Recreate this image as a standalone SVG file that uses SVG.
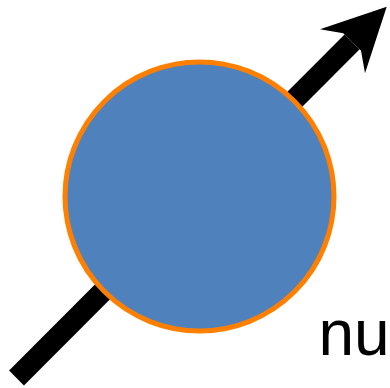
<svg xmlns="http://www.w3.org/2000/svg" width="390" height="388" viewBox="0 0 390 388">
  <style>
    .arrow { stroke: #000000; stroke-width: 21; fill: none; }
    .head { fill: #000000; }
    .ball { fill: #4F81BD; stroke: #FF8000; stroke-width: 5; }
    .label { font-family: "Liberation Sans", Arial, sans-serif; font-size: 64px; fill: #000000; }
  </style>
  <g id="connectors">
    <line class="arrow" x1="16.5" y1="378" x2="352" y2="42"/>
    <polygon class="head" points="386.7,6.7 320,29.3 343.3,33.3 345,35 359,49 361,50.5 365,73.3"/>
  </g>
  <g id="particle">
    <circle class="ball" cx="199.5" cy="196.5" r="134.5"/>
  </g>
  <g id="label-nu">
    <text class="label" x="318.5" y="355">nu</text>
  </g>
</svg>
